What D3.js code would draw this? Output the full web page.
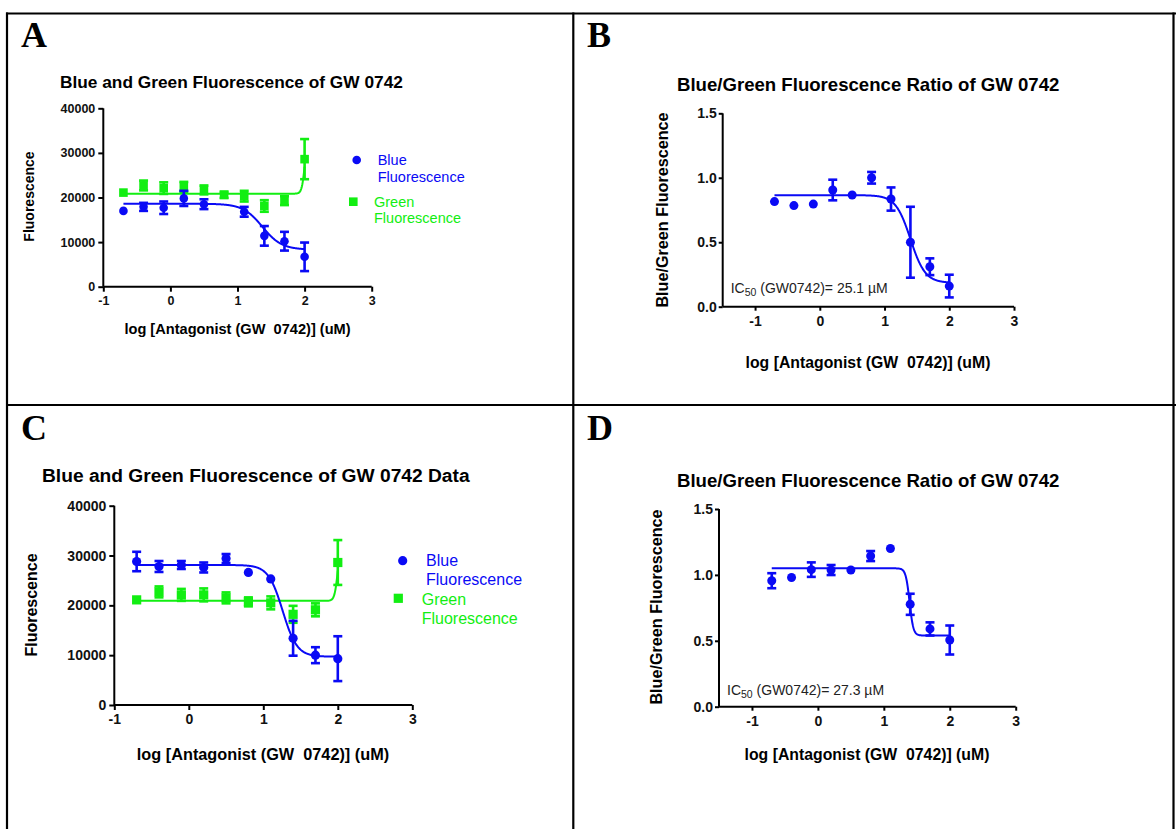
<!DOCTYPE html>
<html><head><meta charset="utf-8">
<script src="https://cdn.jsdelivr.net/npm/d3@7"></script>
<style>
html,body{margin:0;padding:0;background:#fff;}
svg{display:block;}
text{font-family:Arial,"Liberation Sans",sans-serif;}
</style></head>
<body>
<svg id="chart" width="1176" height="829"></svg>
<script>
// ---------- data ----------
const xLog = [-0.7, -0.4, -0.1, 0.2, 0.5, 0.8, 1.1, 1.4, 1.7, 2.0];
const xTicks = [-1, 0, 1, 2, 3];
const xTickLabels = ["-1", "0", "1", "2", "3"];
const fluorTicks = [0, 10000, 20000, 30000, 40000];
const fluorTickLabels = ["0", "10000", "20000", "30000", "40000"];
const ratioTicks = [0, 0.5, 1.0, 1.5];
const ratioTickLabels = ["0.0", "0.5", "1.0", "1.5"];

// Panel A
const aBlue = [17000, 17900, 17700, 19800, 18500, null, 16800, 11400, 10200, 6700];
const aBlueErr = [0, 900, 1400, 1700, 1100, 0, 1100, 2200, 2100, 3200];
const aGreen = [21100, 22700, 22100, 22400, 21700, 20600, 20300, 18100, 19300, 28600];
const aGreenErr = [0, 1100, 1300, 1100, 1000, 700, 1200, 1300, 1000, 4500];
// fit params: [bottom, top, logEC50, hill]
const aBlueFit = [8300, 18600, 1.37, -3];
const aGreenFit = [20850, 33000, 2.0, 20];

// Panel B
const bRatio = [0.815, 0.784, 0.796, 0.905, 0.866, 1.0, 0.835, 0.50, 0.31, 0.16];
const bRatioErr = [0, 0, 0, 0.08, 0, 0.045, 0.09, 0.275, 0.065, 0.088];
const bFit = [0.185, 0.865, 1.40, -3.8];

// Panel C
const cBlue = [28800, 27800, 28100, 27600, 29400, 26600, 25300, 13400, 10000, 9300];
const cBlueErr = [1950, 1100, 800, 1000, 900, 0, 0, 3500, 1600, 4500];
const cGreen = [21100, 22700, 22100, 22100, 21500, 20700, 20500, 18200, 19100, 28600];
const cGreenErr = [0, 1100, 1200, 1300, 1100, 900, 1300, 1700, 1300, 4500];
const cBlueFit = [9700, 28100, 1.26, -4.5];
const cGreenFit = [20900, 33000, 2.0, 20];

// Panel D
const dRatio = [0.956, 0.98, 1.04, 1.037, 1.037, 1.143, 1.2, 0.777, 0.59, 0.506];
const dRatioErr = [0.057, 0, 0.055, 0.038, 0, 0.038, 0, 0.08, 0.05, 0.11];
const dFit = [0.54, 1.05, 1.39, -15];

const BLUE = "#0a0af5";
const GREEN = "#12ee12";

const svg = d3.select("#chart");

// ---------- frame ----------
const frame = svg.append("g").attr("stroke", "#000").attr("stroke-width", 2.2);
frame.append("line").attr("x1", 6).attr("x2", 1176).attr("y1", 13.5).attr("y2", 13.5);
frame.append("line").attr("x1", 7).attr("x2", 7).attr("y1", 12.5).attr("y2", 829);
frame.append("line").attr("x1", 573.3).attr("x2", 573.3).attr("y1", 12.5).attr("y2", 829);
frame.append("line").attr("x1", 6).attr("x2", 1176).attr("y1", 405).attr("y2", 405);
frame.append("line").attr("x1", 1173.5).attr("x2", 1173.5).attr("y1", 12.5).attr("y2", 829);

const letters = [["A", 21, 46.5], ["B", 587, 46.5], ["C", 21, 440], ["D", 587, 440]];
letters.forEach(([t, x, y]) => {
  svg.append("text").attr("x", x).attr("y", y).text(t)
    .style("font-family", "'Liberation Serif','Times New Roman',serif")
    .style("font-weight", "bold").style("font-size", "36px");
});

function sigmoid(p, x) {
  const [bottom, top, mid, hill] = p;
  return bottom + (top - bottom) / (1 + Math.pow(10, (mid - x) * hill));
}

function drawPanel(cfg) {
  const g = svg.append("g");
  const x = d3.scaleLinear().domain(cfg.xDomain).range(cfg.xRange);
  const y = d3.scaleLinear().domain(cfg.yDomain).range(cfg.yRange);

  // title
  g.append("text").attr("x", cfg.title[1]).attr("y", cfg.title[2]).text(cfg.title[0])
    .style("font-weight", "bold").style("font-size", cfg.titleSize + "px");

  // axes
  const xAxis = d3.axisBottom(x).tickValues(xTicks).tickSize(cfg.tick).tickPadding(cfg.xPad)
    .tickFormat((d, i) => xTickLabels[i]);
  const yAxis = d3.axisLeft(y).tickValues(cfg.yTicks).tickSize(cfg.tick).tickPadding(cfg.yPad)
    .tickFormat((d, i) => cfg.yTickLabels[i]);
  const gx = g.append("g").attr("transform", `translate(0,${cfg.yRange[0]})`).call(xAxis);
  const gy = g.append("g").attr("transform", `translate(${cfg.xRange[0]},0)`).call(yAxis);
  [gx, gy].forEach(a => {
    a.select(".domain").attr("stroke", "#000").attr("stroke-width", 2);
    a.selectAll(".tick line").attr("stroke", "#000").attr("stroke-width", 2);
    a.selectAll(".tick text").attr("fill", "#111")
      .style("font-weight", "bold").style("font-size", cfg.tickSize + "px")
      .style("font-family", "Arial,'Liberation Sans',sans-serif");
  });
  gx.select(".domain").attr("d", `M${cfg.xRange[0]},0H${cfg.xRange[1]}`);
  gy.select(".domain").attr("d", `M0,${cfg.yRange[0]}V${cfg.yRange[1]}`);

  // axis labels
  g.append("text").attr("x", cfg.xLabel[0]).attr("y", cfg.xLabel[1])
    .attr("text-anchor", "middle").text("log [Antagonist (GW  0742)] (uM)")
    .style("white-space", "pre")
    .style("font-weight", "bold").style("font-size", cfg.xLabelSize + "px");
  g.append("text")
    .attr("transform", `translate(${cfg.yLabel[0]},${cfg.yLabel[1]}) rotate(-90)`)
    .attr("text-anchor", "middle").text(cfg.yLabelText)
    .style("font-weight", "bold").style("font-size", cfg.yLabelSize + "px");

  // series
  cfg.series.forEach(s => {
    const xs = d3.range(xLog[0], xLog[xLog.length - 1] + 0.0001, 0.005);
    const line = d3.line().x(d => x(d)).y(d => y(sigmoid(s.fit, d)));
    g.append("path").datum(xs).attr("d", line).attr("fill", "none")
      .attr("stroke", s.color).attr("stroke-width", 2);
    const pts = xLog.map((xv, i) => ({x: xv, y: s.values[i], e: s.err[i]})).filter(d => d.y != null);
    pts.filter(d => d.e > 0).forEach(d => {
      const eb = g.append("g").attr("stroke", s.color).attr("stroke-width", 2.6);
      eb.append("line").attr("x1", x(d.x)).attr("x2", x(d.x)).attr("y1", y(d.y - d.e)).attr("y2", y(d.y + d.e));
      [d.y - d.e, d.y + d.e].forEach(v => {
        eb.append("line").attr("x1", x(d.x) - 4.5).attr("x2", x(d.x) + 4.5).attr("y1", y(v)).attr("y2", y(v));
      });
    });
    pts.forEach(d => {
      if (s.shape === "circle") {
        g.append("circle").attr("cx", x(d.x)).attr("cy", y(d.y)).attr("r", cfg.r).attr("fill", s.color);
      } else {
        g.append("rect").attr("x", x(d.x) - cfg.r).attr("y", y(d.y) - cfg.r)
          .attr("width", 2 * cfg.r).attr("height", 2 * cfg.r).attr("fill", s.color);
      }
    });
  });

  // legend
  if (cfg.legend) {
    cfg.legend.forEach(L => {
      if (L.shape === "circle") {
        g.append("circle").attr("cx", L.mx).attr("cy", L.my).attr("r", cfg.r).attr("fill", L.color);
      } else {
        g.append("rect").attr("x", L.mx - cfg.r).attr("y", L.my - cfg.r)
          .attr("width", 2 * cfg.r).attr("height", 2 * cfg.r).attr("fill", L.color);
      }
      const t = g.append("text").attr("x", L.tx).attr("y", L.ty).attr("fill", L.color)
        .style("font-size", cfg.legendSize + "px");
      L.lines.forEach((ln, i) => {
        t.append("tspan").attr("x", L.tx).attr("dy", i === 0 ? 0 : cfg.legendLead).text(ln);
      });
    });
  }

  // IC50 annotation
  if (cfg.ic50) {
    const t = g.append("text").attr("x", cfg.ic50[1]).attr("y", cfg.ic50[2])
      .attr("fill", "#222").style("font-size", "14px");
    t.append("tspan").text("IC");
    t.append("tspan").attr("dy", 3).style("font-size", "10.5px").text("50");
    t.append("tspan").attr("dy", -3).text(" (GW0742)= " + cfg.ic50[0] + " \u00B5M");
  }
}

drawPanel({
  xDomain: [-1, 3], xRange: [103.3, 371.7], yDomain: [0, 40000], yRange: [286.7, 108.3],
  yTicks: fluorTicks, yTickLabels: fluorTickLabels,
  tick: 5, xPad: 4, yPad: 3, tickSize: 12.5, xLabelSize: 14.6, yLabelSize: 14, titleSize: 17.3, r: 4.3,
  title: ["Blue and Green Fluorescence of GW 0742", 60, 87.5],
  xLabel: [237.5, 334], yLabel: [34, 196.5], yLabelText: "Fluorescence",
  series: [
    {values: aGreen, err: aGreenErr, fit: aGreenFit, color: GREEN, shape: "rect"},
    {values: aBlue, err: aBlueErr, fit: aBlueFit, color: BLUE, shape: "circle"}
  ],
  legendSize: 14.5, legendLead: 16.5,
  legend: [
    {shape: "circle", color: BLUE, mx: 356.7, my: 160, tx: 377.7, ty: 165, lines: ["Blue", "Fluorescence"]},
    {shape: "rect", color: GREEN, mx: 353.3, my: 201.7, tx: 374, ty: 206.7, lines: ["Green", "Fluorescence"]}
  ]
});

drawPanel({
  xDomain: [-1.5, 3], xRange: [722.7, 1014], yDomain: [0, 1.5], yRange: [306.7, 113.3],
  yTicks: ratioTicks, yTickLabels: ratioTickLabels,
  tick: 4, xPad: 5, yPad: 2, tickSize: 14, xLabelSize: 15.8, yLabelSize: 16.2, titleSize: 18.6, r: 4.5,
  title: ["Blue/Green Fluorescence Ratio of GW 0742", 677, 90.5],
  xLabel: [868, 368], yLabel: [668, 210], yLabelText: "Blue/Green Fluorescence",
  series: [{values: bRatio, err: bRatioErr, fit: bFit, color: BLUE, shape: "circle"}],
  ic50: ["25.1", 730.7, 293]
});

drawPanel({
  xDomain: [-1, 3], xRange: [114.3, 412.3], yDomain: [0, 40000], yRange: [705, 505.7],
  yTicks: fluorTicks, yTickLabels: fluorTickLabels,
  tick: 5, xPad: 4, yPad: 3, tickSize: 14, xLabelSize: 16.3, yLabelSize: 16, titleSize: 19.2, r: 4.6,
  title: ["Blue and Green Fluorescence of GW 0742 Data", 42, 482],
  xLabel: [263, 760], yLabel: [37, 605], yLabelText: "Fluorescence",
  series: [
    {values: cGreen, err: cGreenErr, fit: cGreenFit, color: GREEN, shape: "rect"},
    {values: cBlue, err: cBlueErr, fit: cBlueFit, color: BLUE, shape: "circle"}
  ],
  legendSize: 16, legendLead: 19,
  legend: [
    {shape: "circle", color: BLUE, mx: 402.7, my: 560.7, tx: 426, ty: 566, lines: ["Blue", "Fluorescence"]},
    {shape: "rect", color: GREEN, mx: 398.3, my: 598.3, tx: 421.7, ty: 604.5, lines: ["Green", "Fluorescence"]}
  ]
});

drawPanel({
  xDomain: [-1.5, 3], xRange: [719, 1015.7], yDomain: [0, 1.5], yRange: [706.7, 509],
  yTicks: ratioTicks, yTickLabels: ratioTickLabels,
  tick: 4, xPad: 5, yPad: 2, tickSize: 14, xLabelSize: 15.8, yLabelSize: 16.2, titleSize: 18.6, r: 4.5,
  title: ["Blue/Green Fluorescence Ratio of GW 0742", 677, 486.5],
  xLabel: [867, 760], yLabel: [662, 607], yLabelText: "Blue/Green Fluorescence",
  series: [{values: dRatio, err: dRatioErr, fit: dFit, color: BLUE, shape: "circle"}],
  ic50: ["27.3", 727, 695]
});
</script>
</body></html>
